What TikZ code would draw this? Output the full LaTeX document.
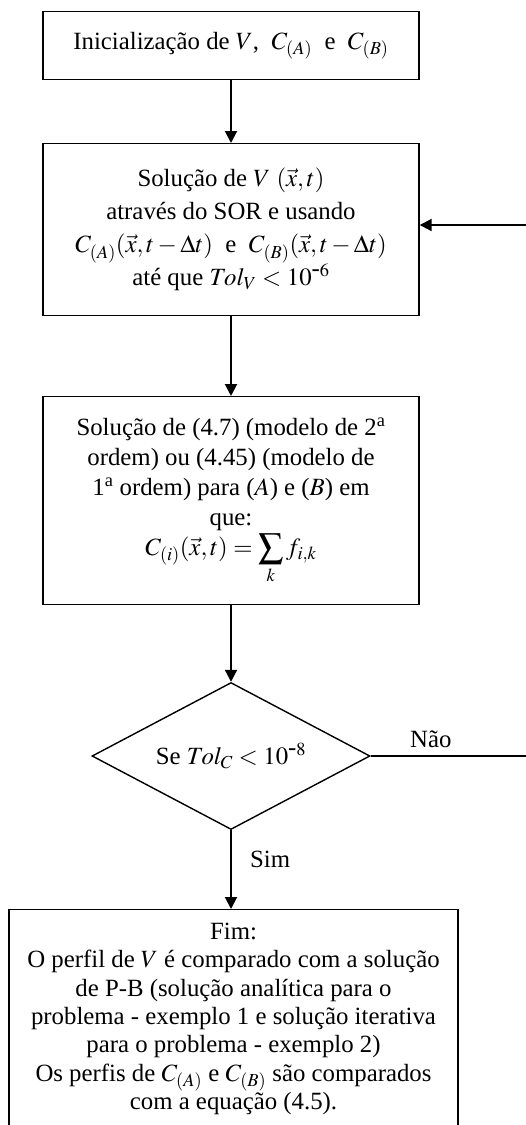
\documentclass[tikz,border=0pt]{standalone}
\usepackage{amsmath}
\usepackage{mathptmx}
\usepackage{fontspec}
\setmainfont{Liberation Serif}
\usetikzlibrary{arrows.meta,shapes.geometric}
\tikzset{
  box/.style={draw, line width=1.4pt, minimum width=376pt, align=center, inner sep=0pt},
  txt/.style={align=center, inner sep=0pt, font=\fontsize{24.8}{30}\selectfont},
  dec/.style={draw, line width=1.4pt, diamond, minimum width=278pt, minimum height=147pt, inner sep=0pt, aspect=1.9},
  arr/.style={line width=2pt, -{Triangle[length=12pt,width=12pt]}},
  ln/.style={line width=1.4pt},
  lbl/.style={inner sep=0pt, font=\fontsize{24.8}{30}\selectfont}
}
\begin{document}
\begin{tikzpicture}[x=1pt,y=-1pt]
\useasboundingbox (0,0) rectangle (526,1125);
\begin{scope}
\clip (0,0) rectangle (526,1125);
% box 1
\node[box, minimum height=68pt, anchor=north, txt] (b1) at (231,11)
  {Inicialização de $V$,\ \ $C_{(A)}$\ \ e\ \ $C_{(B)}$};
% box 2
\node[box, minimum height=172pt, anchor=north, txt, font=\fontsize{24.8}{33}\selectfont] (b2) at (231,143)
  {Solução de $V$ $(\vec{x},t)$\\
   através do SOR e usando\\
   $C_{(A)}(\vec{x},t-\Delta t)$\ \ e\ \ $C_{(B)}(\vec{x},t-\Delta t)$\\
   até que $Tol_V < 10^{\mbox{-}6}$};
% box 3
\node[box, minimum height=208pt, anchor=north, txt] (b3) at (231,396)
  {Solução de (4.7) (modelo de 2\textsuperscript{a}\\
   ordem) ou (4.45) (modelo de\\
   1\textsuperscript{a} ordem) para ($A$) e ($B$) em\\
   que:\\
   $C_{(i)}(\vec{x},t) = \displaystyle\sum_k f_{i,k}$\\[-2pt]};
% decision
\node[dec, txt] (d) at (231,756) {Se $Tol_C < 10^{\mbox{-}8}$};
% end box
\node[draw, line width=1.4pt, minimum width=449pt, minimum height=260pt, anchor=north, inner sep=0pt] (b4) at (233.5,909) {};
\node[txt, anchor=north, font=\fontsize{24.8}{28.3}\selectfont] (b4t) at (233.5,923)
  {Fim:\\
   O perfil de $V$ é comparado com a solução\\
   de P-B (solução analítica para o\\
   problema - exemplo 1 e solução iterativa\\
   para o problema - exemplo 2)\\
   Os perfis de $C_{(A)}$ e $C_{(B)}$ são comparados\\
   com a equação (4.5).};
% connectors
\coordinate (rin) at (527,225);
\coordinate (rout) at (527,756);
\draw[arr] (b1.south) -- (b2.north);
\draw[arr] (b2.south) -- (b3.north);
\draw[arr] (b3.south) -- (d.north);
\draw[arr] (d.south) -- (b4.north -| d.south);
\draw[arr] (rin) -- (rin -| b2.east);
\draw[ln] (d.east) -- (rout);
\node[lbl, anchor=west] (nao) at (410,739) {Não};
\node[lbl, anchor=west] (sim) at (250,859) {Sim};
\end{scope}
\end{tikzpicture}
\end{document}
